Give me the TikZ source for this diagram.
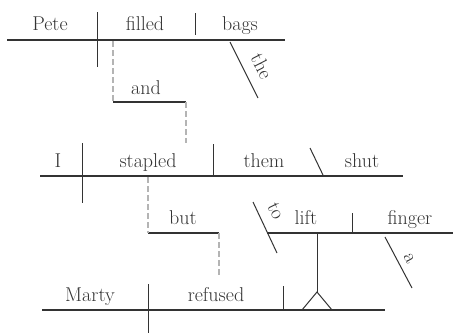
\documentclass[tikz,border=0pt]{standalone}
\definecolor{ink}{HTML}{333333}
\definecolor{guide}{HTML}{B4B4B4}
\begin{document}
\begin{tikzpicture}[x=1pt,y=-1pt,
    mainline/.style={draw=ink,line width=1.2pt},
    divider/.style={draw=ink,line width=1pt},
    joint/.style={draw=guide,line width=1.3pt,dash pattern=on 6pt off 3pt},
    word/.style={text=ink,font=\fontsize{20}{23}\selectfont,inner sep=0pt,anchor=base},
    slant/.style={word,anchor=center}]
\useasboundingbox (0,0) rectangle (453,335);

% Pete filled bags
\coordinate (a1) at (7,40);
\coordinate (a2) at (285,40);
\draw[mainline] (a1) -- (a2);
\draw[divider] (97,12) -- (97,67);
\draw[divider] (195,13) -- (195,35);
\node[word] (pete) at (50,30) {Pete};
\node[word] (filled) at (145,30) {filled};
\node[word] (bags) at (240,30) {bags};
\coordinate (the1) at (230,42);
\coordinate (the2) at (258,98);
\draw[divider] (the1) -- (the2);
\node[slant,rotate=-63] (the) at (262,66) {the};

% and
\coordinate (and1) at (113,102);
\coordinate (and2) at (186,102);
\draw[mainline] (and1) -- (and2);
\node[word] (and) at (146,94) {and};
\draw[joint] (113,41) -- (and1);
\draw[joint] (and2) -- (186,143);

% I stapled them shut
\coordinate (b1) at (40,176);
\coordinate (b2) at (403,176);
\draw[mainline] (b1) -- (b2);
\draw[divider] (82,143) -- (82,203);
\draw[divider] (213,144) -- (213,176);
\draw[divider] (310,148) -- (323,175);
\node[word] (i) at (58,167) {I};
\node[word] (stapled) at (148,167) {stapled};
\node[word] (them) at (264,167) {them};
\node[word] (shut) at (362,167) {shut};

% but
\coordinate (but1) at (148,233);
\coordinate (but2) at (219,233);
\draw[mainline] (but1) -- (but2);
\node[word] (but) at (183,224) {but};
\draw[joint] (148,177) -- (but1);
\draw[joint] (but2) -- (219,276);

% to lift a finger
\coordinate (c1) at (267,233);
\coordinate (c2) at (453,233);
\draw[mainline] (c1) -- (c2);
\draw[divider] (253,202) -- (277,253);
\node[slant,rotate=-64] (to) at (276,211) {to};
\draw[divider] (352,213) -- (352,233);
\node[word] (lift) at (306,224) {lift};
\node[word] (finger) at (410,224) {finger};
\coordinate (a3) at (385,237);
\coordinate (a4) at (412,288);
\draw[divider] (a3) -- (a4);
\node[slant,rotate=-62] (a) at (409,259) {a};

% Marty refused
\coordinate (d1) at (42,310);
\coordinate (d2) at (385,310);
\draw[mainline] (d1) -- (d2);
\draw[divider] (148,284) -- (148,333);
\draw[divider] (283,286) -- (283,310);
\node[word] (marty) at (90,301) {Marty};
\node[word] (refused) at (216,301) {refused};

% stilt
\coordinate (top) at (317,233);
\coordinate (apex) at (317,292);
\draw[divider] (top) -- (apex);
\draw[divider] (302,310) -- (apex) -- (332,310);
\end{tikzpicture}
\end{document}
